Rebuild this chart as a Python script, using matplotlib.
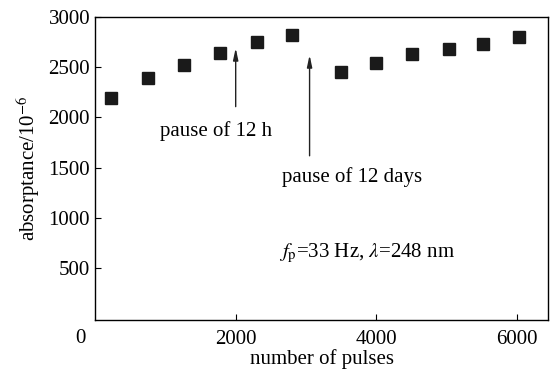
import matplotlib
matplotlib.use("Agg")
import matplotlib.pyplot as plt

pulses = [230, 760, 1270, 1780, 2300, 2800, 3490, 4000, 4510, 5030, 5520, 6020]
absorptance = [2197, 2394, 2518, 2646, 2754, 2820, 2449, 2547, 2630, 2679, 2731, 2803]
y_ticks = [500, 1000, 1500, 2000, 2500, 3000]
x_ticks = [2000, 4000, 6000]

plt.rcParams['font.family'] = ['Liberation Serif', 'DejaVu Serif']
plt.rcParams['mathtext.fontset'] = 'stix'

fig = plt.figure(figsize=(5.52, 3.73), dpi=100)
ax = fig.add_axes([0.172, 0.142, 0.821, 0.812])
ax.plot(pulses, absorptance, linestyle='none', marker='s', ms=8, color='#1a1a1a')
ax.set_xlim(0, 6440)
ax.set_ylim(-20, 3000)
ax.set_xticks(x_ticks)
ax.set_yticks(y_ticks)
ax.tick_params(direction='in', labelsize=15, length=4, width=0.8)
ax.tick_params(axis='x', pad=7)
ax.text(-0.031, -0.06, '0', transform=ax.transAxes, ha='center', va='center', fontsize=15)
ax.set_xlabel('number of pulses', fontsize=15, labelpad=0)
ax.set_ylabel('absorptance/10$^{-6}$', fontsize=15, labelpad=5)

arrow = dict(arrowstyle='-|>,head_length=0.7,head_width=0.15', color='#222222', lw=1.0)
ax.annotate('', xy=(2000, 2720), xytext=(2000, 2080), arrowprops=arrow)
ax.annotate('', xy=(3050, 2650), xytext=(3050, 1590), arrowprops=arrow)
ax.text(1720, 1860, 'pause of 12 h', ha='center', va='center', fontsize=15)
ax.text(3660, 1410, 'pause of 12 days', ha='center', va='center', fontsize=15)
ax.text(2610, 640, r'$f_{\rm p}$=33 Hz, $\lambda$=248 nm', ha='left', va='center', fontsize=15)

for s in ax.spines.values():
    s.set_linewidth(1.0)

fig.savefig('out.png', dpi=100)
